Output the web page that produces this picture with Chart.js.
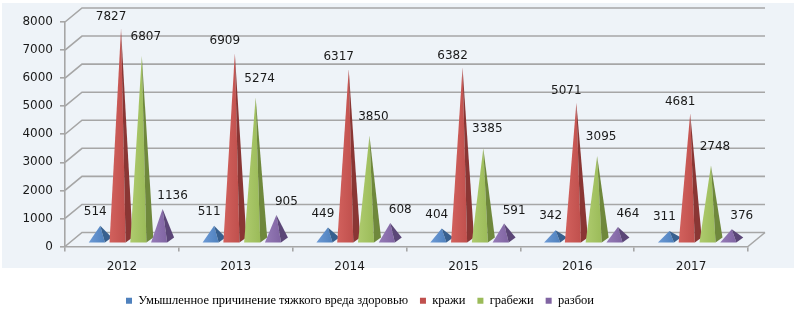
<!DOCTYPE html>
<html><head><meta charset="utf-8">
<script src="https://cdn.jsdelivr.net/npm/chart.js@4"></script>
<style>html,body{margin:0;padding:0;background:#fff}#wrap{width:803px;height:319px}</style>
</head><body><div id="wrap"><canvas id="c" width="803" height="319"></canvas></div>
<script>
// ---- data ----
const years = ['2012', '2013', '2014', '2015', '2016', '2017'];
const seriesNames = ['Умышленное причинение тяжкого вреда здоровью', 'кражи', 'грабежи', 'разбои'];
const grievousHarm = [514, 511, 449, 404, 342, 311];
const thefts = [7827, 6909, 6317, 6382, 5071, 4681];
const robberies = [6807, 5274, 3850, 3385, 3095, 2748];
const assaults = [1136, 905, 608, 591, 464, 376];
const yMin = 0, yMax = 8000, yStep = 1000;

// ---- style ----
const colors = [
  {base:'#4F81BD', light:'#6C9AD6', dark:'#37608F'},
  {base:'#C0504D', light:'#D2615D', dark:'#8A3634'},
  {base:'#9BBB59', light:'#AECB6E', dark:'#6F883C'},
  {base:'#8064A2', light:'#957BB7', dark:'#5B4677'}
];
const labelOffsets = [[-5,-14],[-10,-12],[4,-19],[10,-13]];
const DX = 17, DY = -14;
const GRID = '#A6A6A6';
const SANS = '"DejaVu Sans", Verdana, sans-serif';

const excel3d = {
  id: 'excel3d',
  beforeDraw(chart) {
    const ctx = chart.ctx;
    ctx.save();
    ctx.fillStyle = '#fff';
    ctx.fillRect(0, 0, chart.width, chart.height);
    ctx.fillStyle = '#EEF3F8';
    ctx.fillRect(2, 3, 792, 265);
    ctx.restore();
  },
  afterLayout(chart) {
    const lg = chart.legend;
    const w = lg.right - lg.left;
    lg.left = 114;
    lg.right = lg.left + w;
  },
  beforeDatasetsDraw(chart) {
    const {ctx, chartArea: a, scales: {y}} = chart;
    ctx.save();
    ctx.strokeStyle = GRID;
    ctx.lineWidth = 1.6;
    for (let v = yMin; v <= yMax; v += yStep) {
      const py = y.getPixelForValue(v);
      ctx.beginPath();
      ctx.moveTo(a.left, py);
      ctx.lineTo(a.left + DX, py + DY);
      ctx.lineTo(a.right + DX, py + DY);
      ctx.stroke();
    }
    ctx.beginPath();
    ctx.moveTo(a.right, a.bottom);
    ctx.lineTo(a.right + DX, a.bottom + DY);
    ctx.stroke();

    const y0 = y.getPixelForValue(0);
    const labels = [];
    const n = chart.data.labels.length;
    for (let j = 0; j < n; j++) {
      chart.data.datasets.forEach((ds, i) => {
        const el = chart.getDatasetMeta(i).data[j];
        const c = colors[i];
        const cx = el.x + 9.5;
        const w = 23;
        const yb = y0 - 4;
        const peak = y0 - 7 - (y0 - el.y) * 0.96;
        const xl = cx - w / 2, xf = cx + w * 0.2, xr = cx + w / 2;
        const g = ctx.createLinearGradient(xl, 0, xf, 0);
        g.addColorStop(0, c.light);
        g.addColorStop(1, c.base);
        ctx.fillStyle = g;
        ctx.beginPath();
        ctx.moveTo(xl, yb); ctx.lineTo(xf, yb); ctx.lineTo(cx, peak); ctx.closePath();
        ctx.fill();
        ctx.fillStyle = c.dark;
        ctx.beginPath();
        ctx.moveTo(xf, yb); ctx.lineTo(xr, yb - 5); ctx.lineTo(cx, peak); ctx.closePath();
        ctx.fill();
        labels.push({x: cx + labelOffsets[i][0], y: peak + labelOffsets[i][1], t: String(ds.data[j])});
      });
    }
    ctx.fillStyle = '#1a1a1a';
    ctx.font = '12px ' + SANS;
    ctx.textAlign = 'center';
    ctx.textBaseline = 'middle';
    labels.forEach(l => ctx.fillText(l.t, l.x, l.y));
    ctx.restore();
    return false;
  }
};

new Chart(document.getElementById('c'), {
  type: 'bar',
  data: {
    labels: years,
    datasets: [grievousHarm, thefts, robberies, assaults].map((d, i) => ({
      label: seriesNames[i],
      data: d,
      backgroundColor: colors[i].base,
      borderWidth: 0,
      categoryPercentage: 0.73,
      barPercentage: 1
    }))
  },
  options: {
    responsive: false,
    animation: false,
    devicePixelRatio: 1,
    layout: {padding: {left: 0, right: 55, top: 22, bottom: 2}},
    plugins: {
      tooltip: {enabled: false},
      legend: {
        position: 'bottom',
        align: 'start',
        labels: {
          boxWidth: 6, boxHeight: 6, padding: 12,
          color: '#000',
          font: {family: '"Liberation Serif", "Times New Roman", serif', size: 12.5}
        }
      }
    },
    scales: {
      x: {
        grid: {drawOnChartArea: false, drawTicks: true, tickLength: 5, color: GRID, lineWidth: 1.6},
        border: {display: true, color: GRID, width: 1.6},
        ticks: {color: '#1a1a1a', font: {family: SANS, size: 12}, padding: 8},
        afterFit(s) { s.height = 36; }
      },
      y: {
        min: yMin, max: yMax,
        grid: {drawOnChartArea: false, drawTicks: true, tickLength: 5, color: GRID, lineWidth: 1.6},
        border: {display: true, color: GRID, width: 1.6},
        ticks: {stepSize: yStep, color: '#1a1a1a', font: {family: SANS, size: 12}, padding: 7,
                callback: v => String(v)},
        afterFit(s) { s.width = 65; }
      }
    }
  },
  plugins: [excel3d]
});
</script>
</body></html>
